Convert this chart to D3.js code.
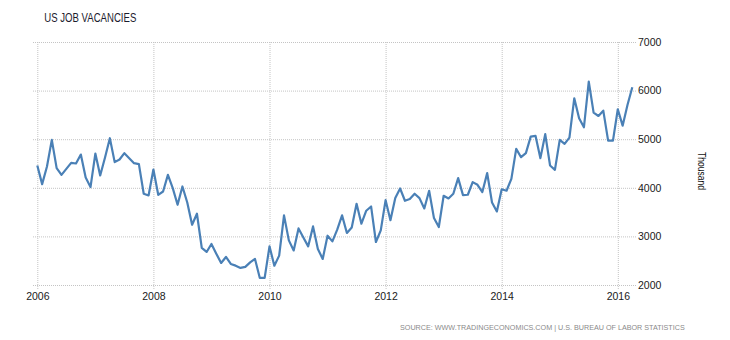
<!DOCTYPE html>
<html>
<head>
<meta charset="utf-8">
<script src="https://cdn.jsdelivr.net/npm/d3@7/dist/d3.min.js"></script>
<style>
  body { margin: 0; background: #fff; }
  text { font-family: "Liberation Sans", Arial, sans-serif; }
</style>
</head>
<body>
<div id="chart"></div>
<script>
// chart size and plot box
const width = 730,
  height = 340,
  margins = { top: 42, bottom: 55, left: 33, right: 94 };

// data: monthly US job openings (thousand), Jan 2006 onwards
const startYear = 2006;
const vacancies = [
  4458, 4076, 4437, 4986, 4404, 4267, 4390, 4513, 4500, 4684, 4212, 4014,
  4705, 4253, 4623, 5020, 4528, 4582, 4712, 4610, 4507, 4487, 3877, 3842,
  4375, 3856, 3924, 4267, 3994, 3651, 4027, 3698, 3240, 3466, 2762, 2680,
  2844, 2645, 2454, 2577, 2433, 2398, 2351, 2372, 2466, 2536, 2146, 2146,
  2795, 2398, 2604, 3432, 2918, 2712, 3164, 2979, 2795, 3205, 2741, 2536,
  3014, 2897, 3138, 3432, 3070, 3185, 3671, 3261, 3528, 3616, 2885, 3124,
  3745, 3333, 3788, 3986, 3733, 3768, 3877, 3788, 3575, 3938, 3377, 3193,
  3836, 3781, 3877, 4199, 3850, 3857, 4117, 4062, 3912, 4302, 3698, 3513,
  3970, 3940, 4185, 4801, 4630, 4713, 5053, 5068, 4610, 5103, 4458, 4370,
  4986, 4903, 5033, 5842, 5431, 5246, 6183, 5546, 5478, 5587, 4971, 4971,
  5616, 5279, 5704, 6068
];
const xTicks = [2006, 2008, 2010, 2012, 2014, 2016];
const yTicks = [2000, 3000, 4000, 5000, 6000, 7000];

const title = "US JOB VACANCIES";
const unitLabel = "Thousand";
const sourceText = "SOURCE: WWW.TRADINGECONOMICS.COM | U.S. BUREAU OF LABOR STATISTICS";

const lineColor = "#4a80b6";
const gridColor = "#c4c4c4";

// turn the monthly list into points (fractional year)
const series = vacancies.map((v, i) => ({ t: startYear + i / 12, value: v }));

const svg = d3.select("#chart")
  .append("svg")
  .attr("width", width)
  .attr("height", height);

// scales
const xScale = d3.scaleLinear()
  .domain([2006, 2016])
  .range([37.3, 617.8]);

const yScale = d3.scaleLinear()
  .domain([2000, 7000])
  .range([height - margins.bottom, margins.top]);

// horizontal grid + right labels
const yAxis = d3.axisRight(yScale)
  .tickValues(yTicks)
  .tickSize(width - margins.left - margins.right)
  .tickFormat(d3.format("d"));

svg.append("g")
  .attr("class", "y-axis")
  .attr("transform", `translate(${margins.left},0)`)
  .call(yAxis)
  .call(g => g.select(".domain").remove())
  .call(g => g.selectAll(".tick line")
    .attr("stroke", gridColor)
    .attr("stroke-dasharray", "1,1"))
  .call(g => g.selectAll(".tick text")
    .attr("x", width - margins.left - margins.right + 2)
    .attr("fill", "#1a1a1a")
    .style("font-size", "10.5px"));

// vertical grid + year labels
const xAxis = d3.axisBottom(xScale)
  .tickValues(xTicks)
  .tickSize(height - margins.bottom - margins.top + 4)
  .tickFormat(d3.format("d"));

svg.append("g")
  .attr("class", "x-axis")
  .attr("transform", `translate(0,${margins.top})`)
  .call(xAxis)
  .call(g => g.select(".domain").remove())
  .call(g => g.selectAll(".tick line")
    .attr("stroke", gridColor)
    .attr("stroke-dasharray", "1,1"))
  .call(g => g.selectAll(".tick text")
    .attr("y", height - margins.bottom - margins.top + 8)
    .attr("fill", "#1a1a1a")
    .style("font-size", "10.5px"));

// the series line
const line = d3.line()
  .x(d => xScale(d.t))
  .y(d => yScale(d.value));

svg.append("path")
  .datum(series)
  .attr("fill", "none")
  .attr("stroke", lineColor)
  .attr("stroke-width", 2.2)
  .attr("stroke-linejoin", "round")
  .attr("d", line);

// title
svg.append("text")
  .attr("x", 44.3)
  .attr("y", 21.7)
  .attr("fill", "#1b1b2e")
  .attr("textLength", 92)
  .attr("lengthAdjust", "spacingAndGlyphs")
  .style("font-size", "12px")
  .text(title);

// unit label on the right, reading downwards
svg.append("text")
  .attr("transform", `translate(697.5,171)rotate(90)`)
  .attr("text-anchor", "middle")
  .attr("fill", "#111")
  .attr("textLength", 38)
  .attr("lengthAdjust", "spacingAndGlyphs")
  .style("font-size", "10px")
  .text(unitLabel);

// source line
svg.append("text")
  .attr("x", 400)
  .attr("y", 329.5)
  .attr("fill", "#8a8a8a")
  .style("font-size", "7.2px")
  .text(sourceText);
</script>
</body>
</html>
